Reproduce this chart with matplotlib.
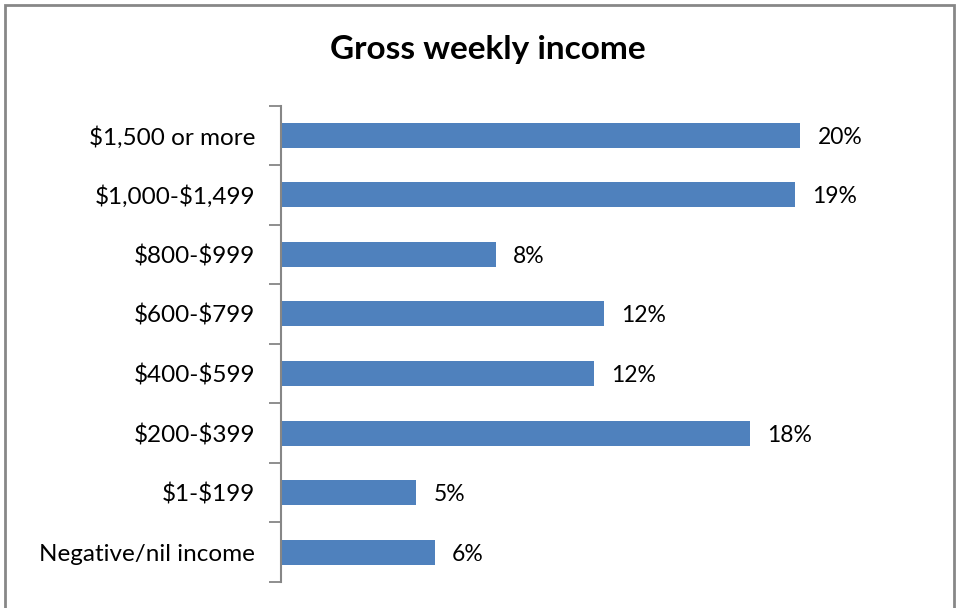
import matplotlib.pyplot as plt
from matplotlib.patches import Rectangle

categories = ['\\$1,500 or more', '\\$1,000-\\$1,499', '\\$800-\\$999', '\\$600-\\$799',
              '\\$400-\\$599', '\\$200-\\$399', '\\$1-\\$199', 'Negative/nil income']
values = [19.6, 19.4, 8.1, 12.2, 11.8, 17.7, 5.1, 5.8]

plt.rcParams['font.family'] = ['Lato', 'DejaVu Sans']

fig = plt.figure(figsize=(9.57, 6.08), dpi=100)
ax = fig.add_axes([281 / 957, 26 / 608, 636 / 957, 476.5 / 608])

# frame around the whole chart (bottom edge falls outside the picture)
fig.patches.append(Rectangle((5 / 957, -0.05), 949 / 957, 1.05 - 5 / 608,
                             transform=fig.transFigure, fill=False,
                             edgecolor='#878787', linewidth=2))

n = len(categories)
ypos = list(range(n))
ax.barh(ypos, values, height=0.42, color='#4F81BD')
ax.set_ylim(n - 0.5, -0.5)
ax.set_xlim(0, 24)

for y, v in zip(ypos, values):
    ax.text(v + 0.65, y, f'{round(v):.0f}%', va='center_baseline', ha='left',
            fontsize=16.5, color='#000000')

ax.set_yticks([i - 0.5 for i in range(n + 1)])
ax.set_yticklabels([])
ax.set_yticks(ypos, minor=True)
ax.set_yticklabels(categories, minor=True, fontsize=17.5)
ax.tick_params(axis='y', which='major', length=9, width=1.3, color='#868686', direction='out')
ax.tick_params(axis='y', which='minor', length=0, pad=18.5)
ax.set_xticks([])

for side in ['top', 'right', 'bottom']:
    ax.spines[side].set_visible(False)
ax.spines['left'].set_color('#868686')
ax.spines['left'].set_linewidth(1.5)

fig.text(488 / 957, 1 - 50 / 608, 'Gross weekly income', ha='center', va='center',
         fontsize=24, fontweight='bold')

fig.savefig('out.png', dpi=100)
